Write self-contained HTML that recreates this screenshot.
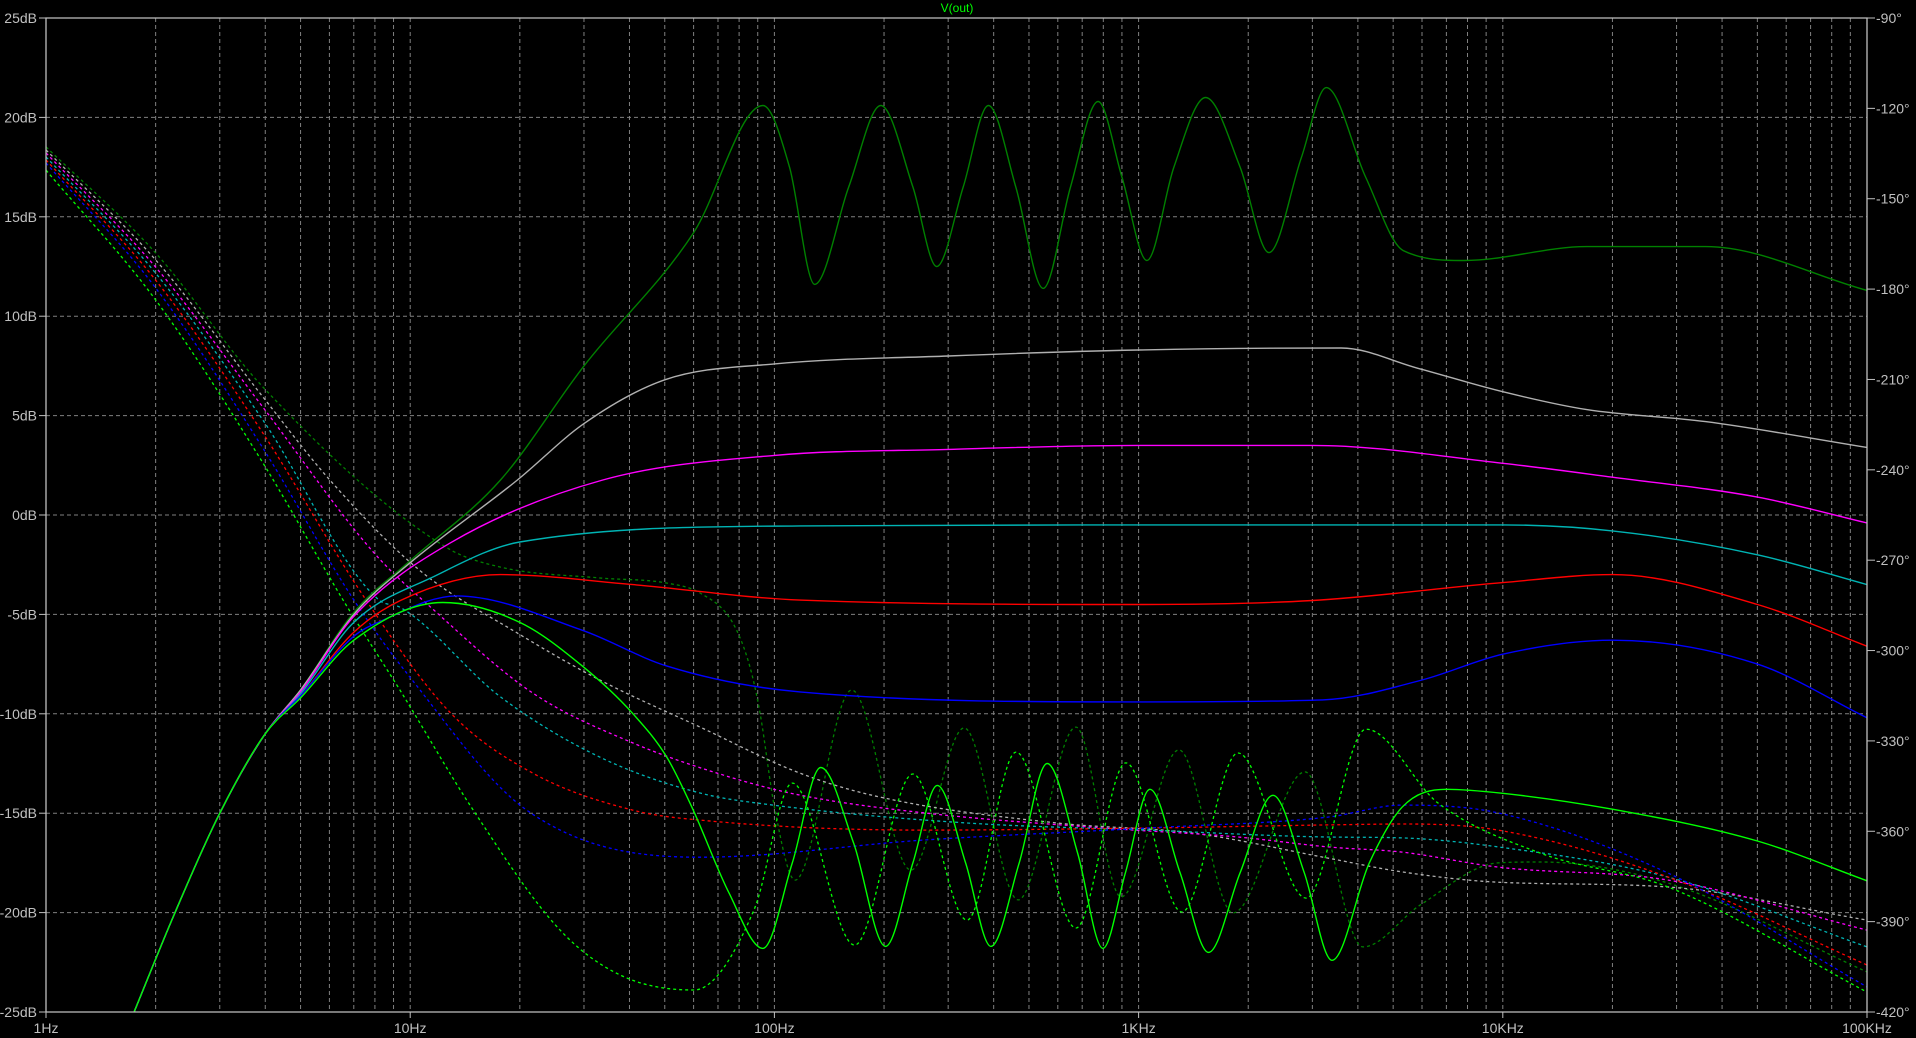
<!DOCTYPE html>
<html><head><meta charset="utf-8"><title>V(out)</title>
<style>
html,body{margin:0;padding:0;background:#000;}
svg{display:block;}
text{font-family:"Liberation Sans",sans-serif;font-size:14px;fill:#c0c0c0;}
</style></head>
<body>
<svg id="chart" width="1916" height="1038" viewBox="0 0 1916 1038" xmlns="http://www.w3.org/2000/svg">
<rect x="0" y="0" width="1916" height="1038" fill="#000"/>
<defs><clipPath id="pc"><rect x="46" y="18" width="1821" height="994"/></clipPath></defs>
<g id="grid"></g>
<g id="series" clip-path="url(#pc)"></g>
<g id="axes"></g>
<text x="957" y="12" text-anchor="middle" style="fill:#00ff00;font-size:12px">V(out)</text>
</svg>
<script>
// ---- axis tick data ----
const dbTicks = [25,20,15,10,5,0,-5,-10,-15,-20,-25];
const phaseTicks = [-90,-120,-150,-180,-210,-240,-270,-300,-330,-360,-390,-420];
const decades = [1,10,100,1000,10000,100000];
const decadeLabels = ["1Hz","10Hz","100Hz","1KHz","10KHz","100KHz"];

// ---- magnitude series (Hz, dB) ----
const fDkGreen = [1.745,2.26,3,4,5,7,10,17.7,30,60,93,110,129,160,196,240,279,330,387,460,547,650,774,900,1054,1250,1527,1900,2280,2800,3277,4200,5330,7830,17000,36000,100000];
const dbDkGreen = [-25,-20,-15,-11,-8.8,-4.9,-2.3,1.76,7.5,14.2,20.6,17.5,11.6,16.5,20.6,16.5,12.5,16.5,20.6,16.5,11.4,16.5,20.8,17,12.8,17.5,21,17.5,13.2,18,21.5,17,13.3,12.8,13.5,13.5,11.3];
const fWhite = [1.745,2.26,3,4,5,7,10,19.7,30,50,100,300,1000,3600,5800,10000,17000,36000,100000];
const dbWhite = [-25,-20,-15,-11,-8.8,-5.0,-2.4,1.76,4.6,6.8,7.6,8.0,8.3,8.4,7.4,6.2,5.3,4.7,3.4];
const fMagenta = [1.745,2.26,3,4,5,7,12.9,33.8,100,300,1000,3000,10000,20000,50000,100000];
const dbMagenta = [-25,-20,-15,-11,-8.9,-5.1,-1.4,1.76,3.0,3.3,3.5,3.5,2.6,1.9,0.9,-0.4];
const fCyan = [1.745,2.26,3,4,5,7,11.6,20,117.5,1000,10000,20000,50000,100000];
const dbCyan = [-25,-20,-15,-11,-9,-5.4,-3.1,-1.36,-0.55,-0.5,-0.5,-0.8,-2.0,-3.5];
const fRed = [1.745,2.26,3,4,5,7,9.4,17.7,40.9,117.5,1000,3000,10000,20000,50000,100000];
const dbRed = [-25,-20,-15,-11,-9.1,-5.9,-4.3,-3.0,-3.5,-4.28,-4.5,-4.3,-3.4,-3.0,-4.5,-6.6];
const fBlue = [1.745,2.26,3,4,5,7,8.4,13.4,29.7,50.7,117.5,1000,3200,6000,10000,20000,50000,100000];
const dbBlue = [-25,-20,-15,-11,-9.1,-6.1,-5.3,-4.07,-5.8,-7.6,-8.9,-9.4,-9.3,-8.3,-7.0,-6.3,-7.5,-10.2];
const fGreen = [1.745,2.26,3,4,5,7,12.3,20,29.7,40.9,50.7,59.7,75,93,112,134,165,202,240,280,335,393,470,561,680,798,920,1074,1300,1556,1900,2339,2850,3396,4300,5290,7000,10000,20000,50000,100000];
const dbGreen = [-25,-20,-15,-11,-9.2,-6.3,-4.4,-5.4,-7.6,-10,-12.2,-14.8,-19,-21.8,-17.5,-12.7,-16.5,-21.7,-17.5,-13.6,-17.5,-21.7,-17.5,-12.5,-17,-21.8,-18,-13.8,-18,-22.0,-18,-14.1,-18,-22.4,-17.5,-14.7,-13.8,-14.0,-14.8,-16.4,-18.4];

// ---- phase series (Hz, degrees) ----
const pfGreen = [1,2,3.94,6.54,9.37,14.9,25.8,37.7,60.1,87.9,112,166,240,338,461,673,923,1315,1875,2884,4210,6637,12650,28430,100000];
const pdGreen = [-140.5,-183.6,-237.7,-283.2,-313.1,-353,-392.8,-407.7,-412.7,-386.1,-344,-397.8,-341,-389.5,-333.7,-392.1,-337.3,-386.8,-334,-382.2,-326.1,-350.6,-367.2,-378.5,-413.4];
const pfDkGreen = [1,2,3.94,12.5,17.7,33.2,50.7,62.5,76.9,85.7,91.3,100.4,114,163,237,332,467,673,895,1291,1816,2864,4130,5929,9700,12650,28430,100000];
const pdDkGreen = [-132.8,-168,-212.5,-265.6,-272.3,-275.9,-277.6,-280.9,-290.9,-305.5,-320.7,-353,-376.2,-313.1,-372.9,-325.7,-382.8,-325.4,-381.8,-333,-387.1,-340.3,-398.4,-384.5,-370.5,-370.2,-377.2,-406.7];
const pfBlue = [1,2,3.94,7.0,9.98,20.9,62.5,258,1061,3311,5290,9700,28430,100000];
const pdBlue = [-138.1,-179.6,-232.8,-283.2,-308.8,-353,-368.6,-362.9,-358.9,-355.3,-351.3,-353.9,-373.9,-411.7];
const pfRed = [1,2,3.94,7.56,12.9,21.7,40.9,62.5,258,1061,3311,5290,9700,28430,100000];
const pdRed = [-137.1,-177,-227.8,-283.2,-320.7,-340.7,-353,-356.3,-359.6,-358.9,-357.9,-357.6,-359.6,-375.2,-404.4];
const pfCyan = [1,2,3.94,8.2,9.37,17.7,33.2,62.5,99.1,342,1061,3311,5290,9700,28430,100000];
const pdCyan = [-136.1,-174.7,-223.5,-283.2,-285.6,-315.4,-335.4,-347.3,-351.3,-357.3,-359.6,-361.9,-362.2,-365.2,-375.2,-398.4];
const pfMagenta = [1,2,3.94,7.96,11.6,21.7,40.9,76.9,117.5,258,798,1875,3311,5290,9700,28430,100000];
const pdMagenta = [-134.8,-172.7,-219.2,-267.6,-286.5,-314.1,-330.7,-342.3,-348,-353.9,-358.9,-361.9,-365.2,-366.9,-371.9,-376.2,-392.8];
const pfWhite = [1,2,3.94,6.02,10.6,19.7,33.2,62.5,117.5,194,601,1410,3311,5290,9700,28430,100000];
const pdWhite = [-133.8,-170.3,-215.8,-243.4,-273.3,-294.2,-309.8,-325.4,-340.7,-348.6,-357.3,-360.6,-368.9,-373.5,-376.9,-378.5,-389.5];

// ---- axis functions ----
const X0=46, X1=1867, Y0=18, Y1=1012;
function xOf(f){ return X0 + (Math.log10(f)-0)/5*(X1-X0); }
function yDb(d){ return Y0 + (25-d)/50*(Y1-Y0); }
function yPh(p){ return Y0 + (-90-p)/330*(Y1-Y0); }

const NS="http://www.w3.org/2000/svg";
function mk(tag, attrs, parent){
  const e=document.createElementNS(NS,tag);
  for(const k in attrs) e.setAttribute(k,attrs[k]);
  parent.appendChild(e); return e;
}
const grid=document.getElementById('grid');
const axes=document.getElementById('axes');
const series=document.getElementById('series');

for(let d=0; d<5; d++){
  for(let m=1; m<=9; m++){
    if(d===0 && m===1) continue;
    const x=xOf(Math.pow(10,d)*m);
    const ln=mk('line',{x1:x,y1:Y0,x2:x,y2:Y1,stroke:'#808080','stroke-width':1,'stroke-dasharray':'4,3'},grid);
    
    
  }
}
dbTicks.forEach(v=>{
  const y=yDb(v);
  if(v!==25 && v!==-25){
    const ln=mk('line',{x1:X0,y1:y,x2:X1,y2:y,stroke:'#808080','stroke-width':1,'stroke-dasharray':'4,3'},grid);
    
    
  }
  const tk=mk('line',{x1:39,y1:y,x2:X0,y2:y,stroke:'#c0c0c0','stroke-width':1},axes);
  
  
  const t=mk('text',{x:37,y:y+5,'text-anchor':'end'},axes);
  t.textContent=v+'dB';
  
  
});
phaseTicks.forEach(v=>{
  const y=yPh(v);
  const tk=mk('line',{x1:X1,y1:y,x2:X1+8,y2:y,stroke:'#c0c0c0','stroke-width':1},axes);
  
  
  const t=mk('text',{x:X1+9,y:y+5,'text-anchor':'start'},axes);
  t.textContent=v+'°';
  
  
});
decades.forEach((f,i)=>{
  const x=xOf(f);
  const tk=mk('line',{x1:x,y1:Y1,x2:x,y2:Y1+6,stroke:'#c0c0c0','stroke-width':1},axes);
  
  
  const t=mk('text',{x:x,y:1033,'text-anchor':'middle'},axes);
  t.textContent=decadeLabels[i];
  
  
});
const fr=mk('path',{d:`M${X0},${Y1} L${X0},${Y0} L${X1},${Y0} L${X1},${Y1} L${X0},${Y1}`,fill:'none',stroke:'#c0c0c0','stroke-width':1.3},axes);



function pathFrom(xs, ys){
  const n=xs.length, d=[], m=[];
  for(let i=0;i<n-1;i++) d.push((ys[i+1]-ys[i])/(xs[i+1]-xs[i]));
  m[0]=d[0]; m[n-1]=d[n-2];
  for(let i=1;i<n-1;i++){ m[i]=(d[i-1]*d[i]<=0)?0:(d[i-1]+d[i])/2; }
  for(let i=0;i<n-1;i++){
    if(d[i]===0){m[i]=0;m[i+1]=0;continue;}
    const a=m[i]/d[i], b=m[i+1]/d[i], s=a*a+b*b;
    if(s>9){const t=3/Math.sqrt(s); m[i]=t*a*d[i]; m[i+1]=t*b*d[i];}
  }
  let p=`M${xs[0].toFixed(1)},${ys[0].toFixed(1)}`;
  for(let i=0;i<n-1;i++){
    const h=xs[i+1]-xs[i];
    p+=` C${(xs[i]+h/3).toFixed(1)},${(ys[i]+m[i]*h/3).toFixed(1)} ${(xs[i+1]-h/3).toFixed(1)},${(ys[i+1]-m[i+1]*h/3).toFixed(1)} ${xs[i+1].toFixed(1)},${ys[i+1].toFixed(1)}`;
  }
  return p;
}
function drawMag(fs, vals, color, name){
  const el=mk('path',{d:pathFrom(fs.map(xOf), vals.map(yDb)),fill:'none',stroke:color,'stroke-width':1.4},series);
  
  
}
function drawPh(fs, vals, color, name){
  const el=mk('path',{d:pathFrom(fs.map(xOf), vals.map(yPh)),fill:'none',stroke:color,'stroke-width':1.3,'stroke-dasharray':'3,3'},series);
  
  
}
drawPh(pfDkGreen,pdDkGreen,'#008000','phase-dark-green');
drawPh(pfWhite,pdWhite,'#b0b0b0','phase-white');
drawPh(pfMagenta,pdMagenta,'#ff00ff','phase-magenta');
drawPh(pfCyan,pdCyan,'#00b4b4','phase-cyan');
drawPh(pfRed,pdRed,'#ff0000','phase-red');
drawPh(pfBlue,pdBlue,'#0000ff','phase-blue');
drawPh(pfGreen,pdGreen,'#00ff00','phase-green');
drawMag(fDkGreen,dbDkGreen,'#008000','magnitude-dark-green');
drawMag(fWhite,dbWhite,'#b0b0b0','magnitude-white');
drawMag(fMagenta,dbMagenta,'#ff00ff','magnitude-magenta');
drawMag(fCyan,dbCyan,'#00b4b4','magnitude-cyan');
drawMag(fRed,dbRed,'#ff0000','magnitude-red');
drawMag(fBlue,dbBlue,'#0000ff','magnitude-blue');
drawMag(fGreen,dbGreen,'#00ff00','magnitude-green');
</script>
</body></html>
